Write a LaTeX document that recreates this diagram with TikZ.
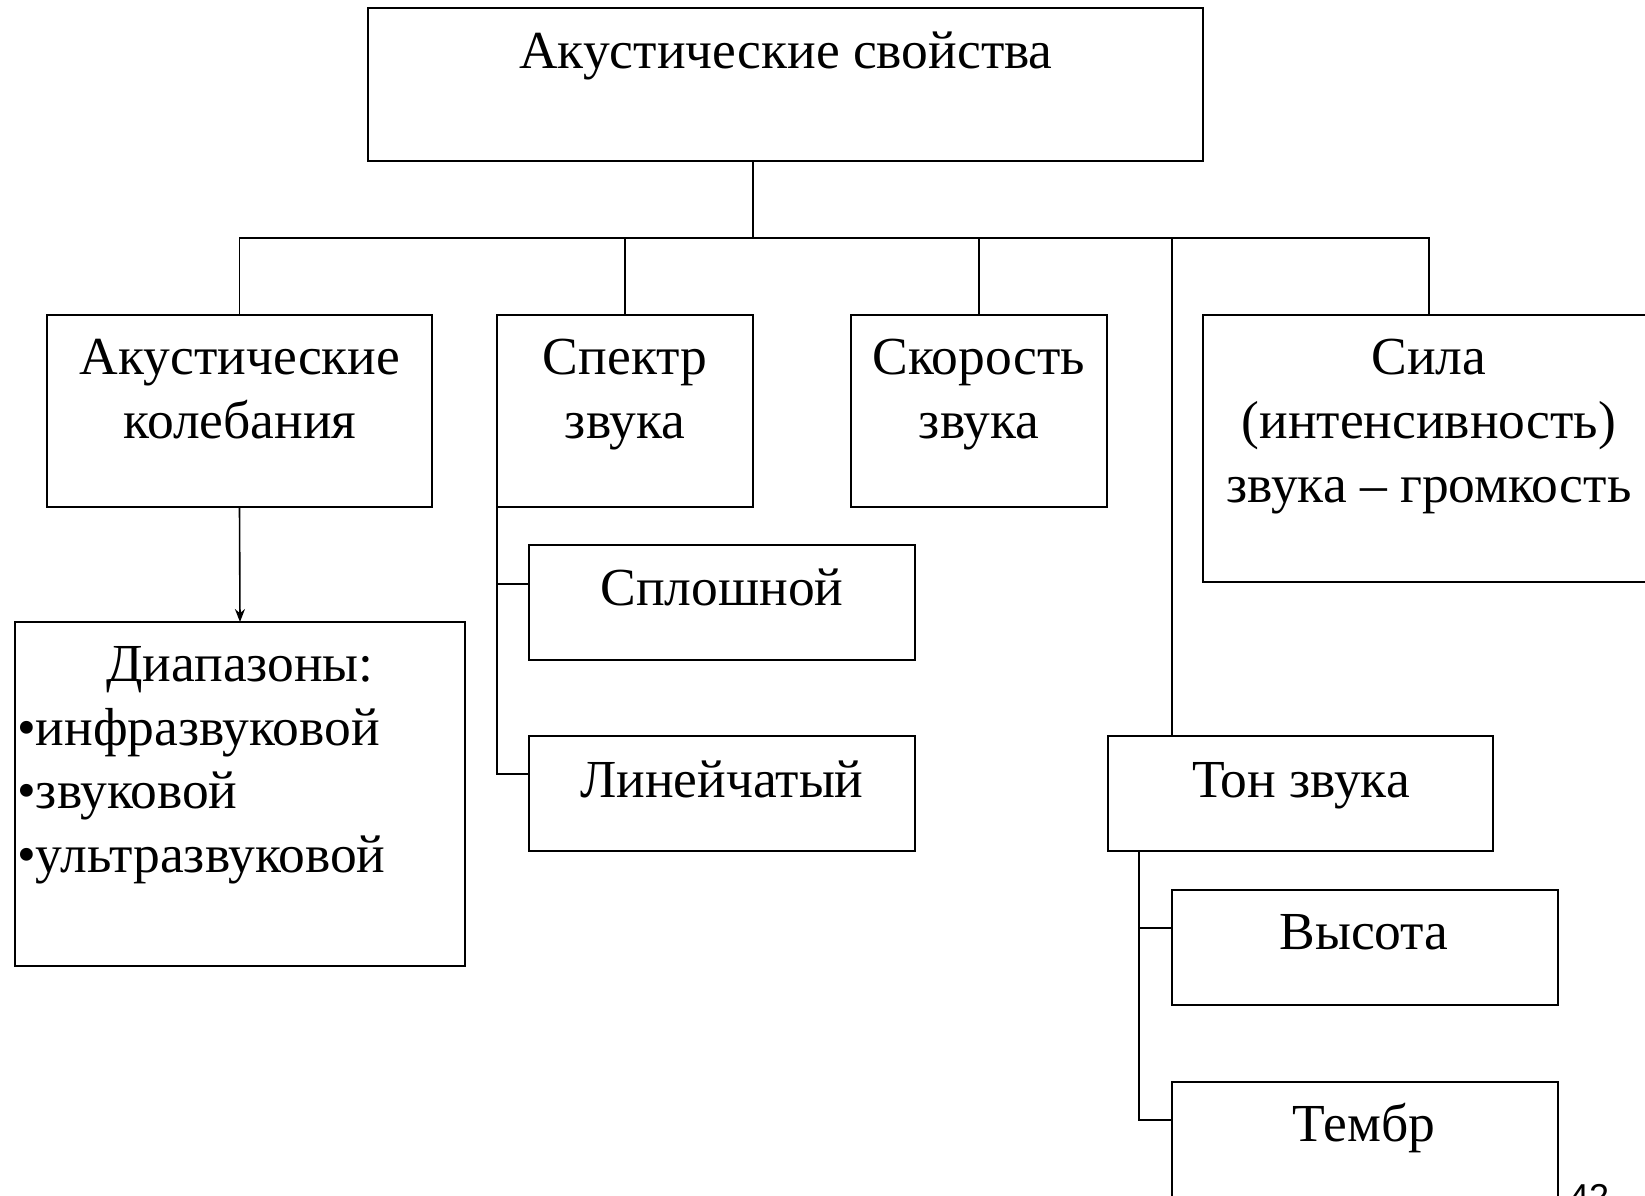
\documentclass[tikz,border=0pt]{standalone}
\usepackage{fontspec}
\setmainfont{Liberation Serif}
\newfontfamily\pgnumfont{Liberation Sans}
\usetikzlibrary{arrows.meta}
\begin{document}
\begin{tikzpicture}[x=1pt,y=-1pt,
  boxstyle/.style={draw, line width=1.8pt, inner sep=0pt, outer sep=0pt, anchor=north west},
  txt/.style={inner sep=0pt, anchor=base, font=\fontsize{53.5}{64}\selectfont},
  conn/.style={line width=1.6pt}]
\clip (0,0) rectangle (1645,1195);
\fill[white] (0,0) rectangle (1645,1195);
% boxes
\node[boxstyle, minimum width=835pt, minimum height=153pt] (top) at (368,8) {};
\node[boxstyle, minimum width=385pt, minimum height=192pt] (b1) at (47,315) {};
\node[boxstyle, minimum width=256pt, minimum height=192pt] (b2) at (497,315) {};
\node[boxstyle, minimum width=256pt, minimum height=192pt] (b3) at (851,315) {};
\node[boxstyle, minimum width=452pt, minimum height=267pt] (b4) at (1203,315) {};
\node[boxstyle, minimum width=450pt, minimum height=344pt] (diap) at (15,622) {};
\node[boxstyle, minimum width=386pt, minimum height=115pt] (splo) at (529,545) {};
\node[boxstyle, minimum width=386pt, minimum height=115pt] (lin) at (529,736) {};
\node[boxstyle, minimum width=385pt, minimum height=115pt] (ton) at (1108,736) {};
\node[boxstyle, minimum width=386pt, minimum height=115pt] (vys) at (1172,890) {};
\node[boxstyle, minimum width=386pt, minimum height=200pt] (temb) at (1172,1082) {};
% texts
\node[txt] (ttop) at (786,68) {Акустические свойства};
\node[txt] (t1a) at (240,374) {Акустические};
\node[txt] (t1b) at (240,438) {колебания};
\node[txt] (t2a) at (625,374) {Спектр};
\node[txt] (t2b) at (625,438) {звука};
\node[txt] (t3a) at (979,374) {Скорость};
\node[txt] (t3b) at (979,438) {звука};
\node[txt] (t4a) at (1429,374) {Сила};
\node[txt] (t4b) at (1429,438) {(интенсивность)};
\node[txt] (t4c) at (1429,502) {звука – громкость};
\node[txt] (tsplo) at (722,605) {Сплошной};
\node[txt] (tlin) at (722,797) {Линейчатый};
\node[txt] (tton) at (1301,797) {Тон звука};
\node[txt] (tvys) at (1364,949) {Высота};
\node[txt] (ttemb) at (1364,1141) {Тембр};
\node[txt] (tdiap) at (240,681) {Диапазоны:};
\node[txt, anchor=base west] (td1) at (17,745) {•инфразвуковой};
\node[txt, anchor=base west] (td2) at (17,808) {•звуковой};
\node[txt, anchor=base west] (td3) at (17,872) {•ультразвуковой};
\node[inner sep=0pt, anchor=base west, font=\pgnumfont\fontsize{36}{40}\selectfont] (pg) at (1569,1209) {42};
% connectors
\coordinate (bus) at (0,238);
\coordinate (ts) at (1172,238);
\coordinate (tt) at (1139,851);
\coordinate (splin) at ([yshift=-39pt]splo.north west);
\coordinate (linin) at ([yshift=-38pt]lin.north west);
\coordinate (vysin) at ([yshift=-38pt]vys.north west);
\coordinate (tembin) at ([yshift=-38pt]temb.north west);
\draw[conn] (b2.east |- top.south) -- (b2.east |- bus);
\draw[conn] (b1.north) -- (b1.north |- bus) -- (b4.north |- bus) -- (b4.north);
\draw[conn] (b2.north |- bus) -- (b2.north);
\draw[conn] (b3.north |- bus) -- (b3.north);
\draw[conn] (ts) -- (ts |- ton.north);
\draw[conn, -{Stealth[length=13pt, width=10pt]}] (b1.south) -- (diap.north);
\draw[conn] (b2.south west) |- (linin);
\draw[conn] (b2.south west |- splin) -- (splin);
\draw[conn] (tt) |- (tembin);
\draw[conn] (tt |- vysin) -- (vysin);
\end{tikzpicture}
\end{document}
